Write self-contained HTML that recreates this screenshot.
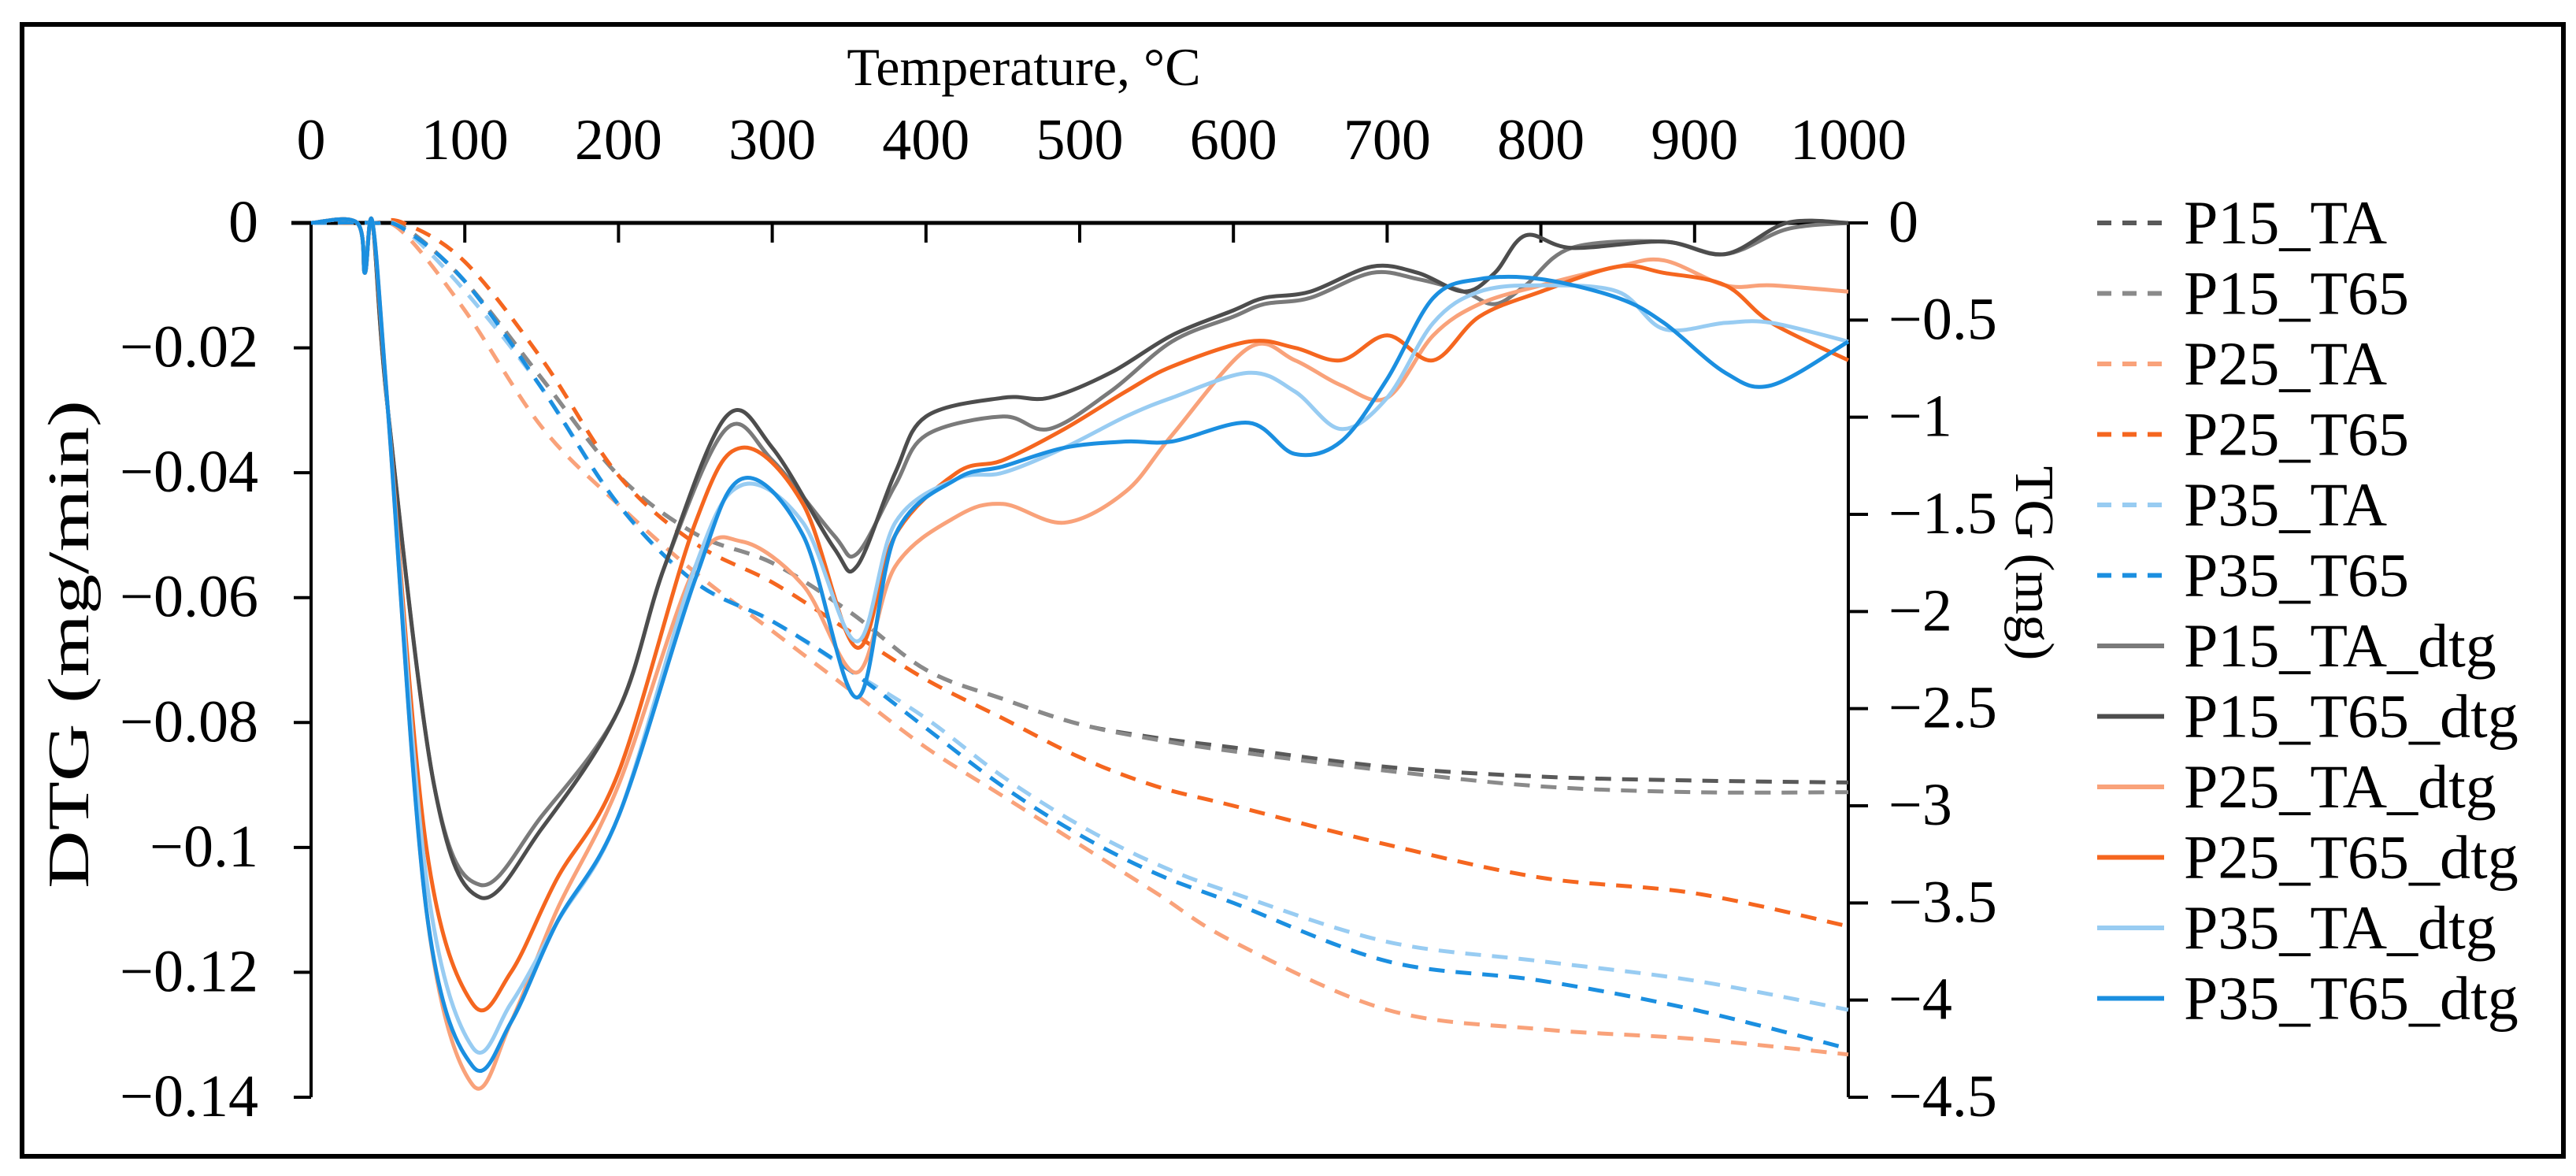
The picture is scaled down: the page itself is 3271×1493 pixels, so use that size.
<!DOCTYPE html>
<html><head><meta charset="utf-8"><style>
html,body{margin:0;padding:0;background:#fff}
svg{display:block}
text{font-family:"Liberation Serif",serif;fill:#000}
</style></head><body>
<svg id="chart" width="3271" height="1493" viewBox="0 0 3271 1493" xmlns="http://www.w3.org/2000/svg">
<rect x="28" y="31" width="3227" height="1437" fill="#fff" stroke="#000" stroke-width="6"/>
<g id="axes"></g>
<g id="series"></g>
<g id="legend"></g>
</svg>
<script>
const xTicks=[0,100,200,300,400,500,600,700,800,900,1000];
const dtgTicks=[0,-0.02,-0.04,-0.06,-0.08,-0.1,-0.12,-0.14];
const dtgTickLabels=["0","−0.02","−0.04","−0.06","−0.08","−0.1","−0.12","−0.14"];
const tgTicks=[0,-0.5,-1,-1.5,-2,-2.5,-3,-3.5,-4,-4.5];
const tgTickLabels=["0","−0.5","−1","−1.5","−2","−2.5","−3","−3.5","−4","−4.5"];
const seriesNames=["P15_TA","P15_T65","P25_TA","P25_T65","P35_TA","P35_T65","P15_TA_dtg","P15_T65_dtg","P25_TA_dtg","P25_T65_dtg","P35_TA_dtg","P35_T65_dtg"];
const tgT=[0,40,60,100,150,200,250,300,350,400,450,500,550,600,700,800,900,1000];
const P15_TA=[0,0,-0.02,-0.3,-0.8,-1.3,-1.6,-1.75,-2.0,-2.3,-2.45,-2.58,-2.65,-2.7,-2.8,-2.85,-2.87,-2.88];
const P15_T65=[0,0,-0.02,-0.3,-0.8,-1.3,-1.6,-1.75,-2.0,-2.3,-2.45,-2.58,-2.66,-2.72,-2.82,-2.9,-2.93,-2.93];
const P25_TA=[0,0,-0.05,-0.45,-1.05,-1.45,-1.8,-2.1,-2.4,-2.7,-2.95,-3.2,-3.45,-3.7,-4.05,-4.15,-4.2,-4.28];
const P25_T65=[0,0,0,-0.2,-0.7,-1.3,-1.65,-1.85,-2.1,-2.35,-2.55,-2.75,-2.9,-3.0,-3.2,-3.37,-3.45,-3.62];
const P35_TA=[0,0,-0.03,-0.35,-0.85,-1.45,-1.85,-2.05,-2.3,-2.55,-2.85,-3.1,-3.3,-3.45,-3.7,-3.8,-3.9,-4.05];
const P35_T65=[0,0,-0.03,-0.3,-0.85,-1.45,-1.85,-2.05,-2.3,-2.6,-2.9,-3.15,-3.35,-3.5,-3.8,-3.9,-4.05,-4.25];
const P15_TA_dtgT=[0,30,35,40,50,80,110,150,200,230,270,300,340,355,380,400,450,480,520,560,600,620,650,690,720,750,770,790,820,880,920,960,1000];
const P15_TA_dtg=[0,0,-0.008,0,-0.03,-0.09,-0.106,-0.095,-0.078,-0.055,-0.033,-0.038,-0.05,-0.053,-0.042,-0.034,-0.031,-0.033,-0.027,-0.019,-0.015,-0.013,-0.012,-0.008,-0.009,-0.011,-0.013,-0.01,-0.004,-0.003,-0.005,-0.001,0];
const P15_T65_dtg=[0,0,-0.008,0,-0.03,-0.09,-0.108,-0.097,-0.078,-0.055,-0.031,-0.036,-0.052,-0.055,-0.04,-0.031,-0.028,-0.028,-0.024,-0.018,-0.014,-0.012,-0.011,-0.007,-0.008,-0.011,-0.008,-0.002,-0.004,-0.003,-0.005,0,0];
const dtgT=[0,30,35,40,50,75,105,130,160,200,250,280,320,355,380,420,450,490,530,560,610,640,670,700,730,760,800,850,880,920,950,1000];
const P25_TA_dtg=[0,0,-0.008,0,-0.03,-0.11,-0.138,-0.128,-0.11,-0.09,-0.055,-0.051,-0.058,-0.072,-0.055,-0.047,-0.045,-0.048,-0.043,-0.034,-0.02,-0.022,-0.026,-0.028,-0.018,-0.013,-0.01,-0.007,-0.006,-0.01,-0.01,-0.011];
const P25_T65_dtg=[0,0,-0.008,0,-0.03,-0.1,-0.125,-0.12,-0.105,-0.088,-0.048,-0.036,-0.045,-0.068,-0.05,-0.04,-0.038,-0.033,-0.027,-0.023,-0.019,-0.02,-0.022,-0.018,-0.022,-0.015,-0.011,-0.007,-0.008,-0.01,-0.016,-0.022];
const P35_TA_dtg=[0,0,-0.008,0,-0.03,-0.105,-0.132,-0.125,-0.112,-0.095,-0.055,-0.042,-0.048,-0.067,-0.048,-0.041,-0.04,-0.036,-0.031,-0.028,-0.024,-0.027,-0.033,-0.028,-0.016,-0.011,-0.01,-0.011,-0.017,-0.016,-0.016,-0.019];
const P35_T65_dtg=[0,0,-0.008,0,-0.03,-0.11,-0.135,-0.128,-0.112,-0.095,-0.057,-0.041,-0.05,-0.076,-0.05,-0.041,-0.039,-0.036,-0.035,-0.035,-0.032,-0.037,-0.035,-0.025,-0.012,-0.009,-0.009,-0.012,-0.016,-0.024,-0.026,-0.019];

const X0=395,X1=2347,Y0=283,Y1=1393;
const xs=t=>X0+(X1-X0)*t/1000;
const yd=v=>Y0+(Y1-Y0)*(v/-0.14);
const yt=v=>Y0+(Y1-Y0)*(v/-4.5);
const NS="http://www.w3.org/2000/svg";
function mk(tag,attrs,parent,txt){const e=document.createElementNS(NS,tag);for(const k in attrs)e.setAttribute(k,attrs[k]);if(txt!==undefined)e.textContent=txt;parent.appendChild(e);return e;}
function smooth(pts){let d=`M${pts[0][0]},${pts[0][1]}`;for(let i=0;i<pts.length-1;i++){const p0=pts[Math.max(0,i-1)],p1=pts[i],p2=pts[i+1],p3=pts[Math.min(pts.length-1,i+2)];const c1=[p1[0]+(p2[0]-p0[0])/6,p1[1]+(p2[1]-p0[1])/6],c2=[p2[0]-(p3[0]-p1[0])/6,p2[1]-(p3[1]-p1[1])/6];d+=` C${c1[0]},${c1[1]} ${c2[0]},${c2[1]} ${p2[0]},${p2[1]}`;}return d;}
const axes=document.getElementById('axes');
let e;
e=mk('line',{x1:370,y1:Y0,x2:X1,y2:Y0,stroke:'#000','stroke-width':5},axes);


e=mk('line',{x1:X0,y1:Y0,x2:X0,y2:Y1,stroke:'#000','stroke-width':4},axes);


e=mk('line',{x1:X1,y1:Y0,x2:X1,y2:Y1,stroke:'#000','stroke-width':4},axes);


xTicks.forEach(t=>{
 mk('line',{x1:xs(t),y1:Y0,x2:xs(t),y2:Y0+25,stroke:'#000','stroke-width':4},axes);
 e=mk('text',{x:xs(t),y:202,'font-size':74,'text-anchor':'middle'},axes,String(t));
 
 
});
dtgTicks.forEach((v,i)=>{
 mk('line',{x1:X0-22,y1:yd(v),x2:X0,y2:yd(v),stroke:'#000','stroke-width':4},axes);
 e=mk('text',{x:328,y:yd(v)+24,'font-size':76,'text-anchor':'end'},axes,dtgTickLabels[i]);
 
 
});
tgTicks.forEach((v,i)=>{
 mk('line',{x1:X1,y1:yt(v),x2:X1+25,y2:yt(v),stroke:'#000','stroke-width':4},axes);
 e=mk('text',{x:2398,y:yt(v)+24,'font-size':76},axes,tgTickLabels[i]);
 
 
});
e=mk('text',{x:1300,y:108,'font-size':68,'text-anchor':'middle'},axes,'Temperature, °C');


e=mk('text',{x:0,y:0,'font-size':74,'text-anchor':'middle',textLength:620,lengthAdjust:'spacingAndGlyphs',transform:'translate(112,818) rotate(-90)'},axes,'DTG (mg/min)');


e=mk('text',{x:0,y:0,'font-size':70,'text-anchor':'middle',transform:'translate(2560,715) rotate(90)'},axes,'TG (mg)');



const colors=['#595959','#8a8a8a','#f9a27a','#f5661f','#98ccf2','#1b8fe0','#7a7a7a','#4d4d4d','#f9a27a','#f5661f','#98ccf2','#1b8fe0'];
const defs=[
 [tgT,P15_TA,yt],[tgT,P15_T65,yt],[tgT,P25_TA,yt],[tgT,P25_T65,yt],[tgT,P35_TA,yt],[tgT,P35_T65,yt],
 [P15_TA_dtgT,P15_TA_dtg,yd],[P15_TA_dtgT,P15_T65_dtg,yd],[dtgT,P25_TA_dtg,yd],[dtgT,P25_T65_dtg,yd],[dtgT,P35_TA_dtg,yd],[dtgT,P35_T65_dtg,yd]];
const sg=document.getElementById('series'), lg=document.getElementById('legend');
defs.forEach((d,i)=>{
 const pts=d[0].map((t,j)=>[xs(t),d[2](d[1][j])]);
 const dashed=i<6;
 e=mk('path',{d:smooth(pts),fill:'none',stroke:colors[i],'stroke-width':5,'stroke-dasharray':dashed?'20 14':'none'},sg);
 
 
 const ly=283+i*89.5;
 mk('line',{x1:2663,y1:ly,x2:2748,y2:ly,stroke:colors[i],'stroke-width':6,'stroke-dasharray':dashed?'18 14':'none'},lg);
 e=mk('text',{x:2773,y:ly+26,'font-size':78},lg,seriesNames[i]);
 
 
});
</script>
</body></html>
